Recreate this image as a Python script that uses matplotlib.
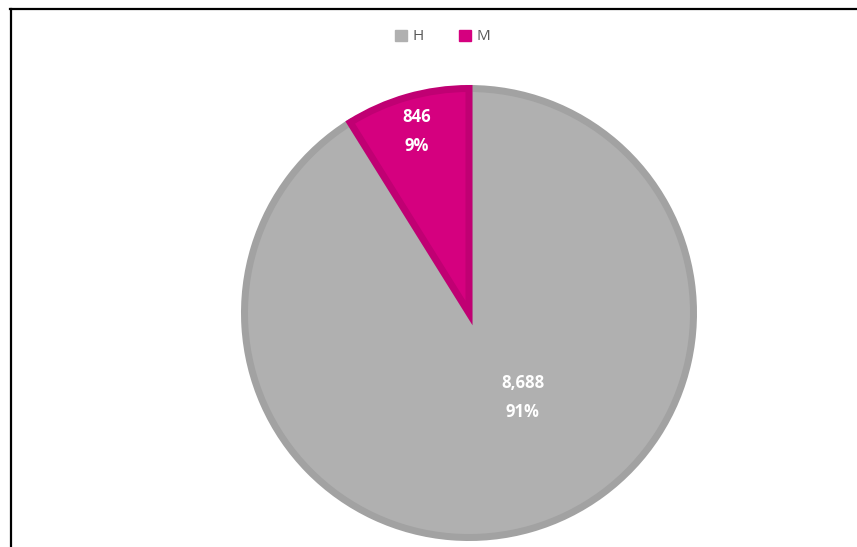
import matplotlib.pyplot as plt
from matplotlib.lines import Line2D
from matplotlib.patches import Patch
import numpy as np

labels = ['H', 'M']
values = [8688, 846]
colors = ['#b0b0b0', '#d5007f']
edges = ['#a2a2a2', '#c00073']

W, H = 857, 547
fig = plt.figure(figsize=(W / 100, H / 100), dpi=100)
ax = fig.add_axes([0, 0, 1, 1])

cx, cy, r = 469, H - 313, 228
lw_px = 7
wedges, _ = ax.pie(values, colors=colors, startangle=90, counterclock=False,
                   center=(cx, cy), radius=r - lw_px / 2,
                   wedgeprops=dict(linewidth=lw_px * 0.72, joinstyle='miter'))
for w, ec in zip(wedges, edges):
    w.set_edgecolor(ec)

ax.set_xlim(0, W)
ax.set_ylim(0, H)
ax.set_aspect('equal')
ax.axis('off')

# data labels (Excel-like placement)
total = sum(values)
place = [(-57.6, 0.44), (106.2, 0.83)]
for v, (ang, d) in zip(values, place):
    a = np.deg2rad(ang)
    ax.text(cx + d * r * np.cos(a), cy + d * r * np.sin(a),
            '{:,}\n{:.0f}%'.format(v, 100 * v / total),
            ha='center', va='center', color='white', fontsize=12,
            fontweight='bold', family='Open Sans', linespacing=1.8)

handles = [Patch(facecolor=c, edgecolor=c) for c in colors]
leg = fig.legend(handles, labels, loc='center', bbox_to_anchor=(443 / W, 1 - 37 / H),
                 ncol=2, frameon=False, handlelength=0.75, handleheight=0.75,
                 handletextpad=0.4, columnspacing=2.3,
                 prop={'family': 'Open Sans', 'size': 11})
for t in leg.get_texts():
    t.set_color('#595959')

# chart frame (only top and left visible)
fig.add_artist(Line2D([10 / W, 1], [1 - 9 / H] * 2, color='black', lw=1.6))
fig.add_artist(Line2D([10.5 / W] * 2, [0, 1 - 9 / H], color='black', lw=1.6))

fig.savefig('out.png', dpi=100)
